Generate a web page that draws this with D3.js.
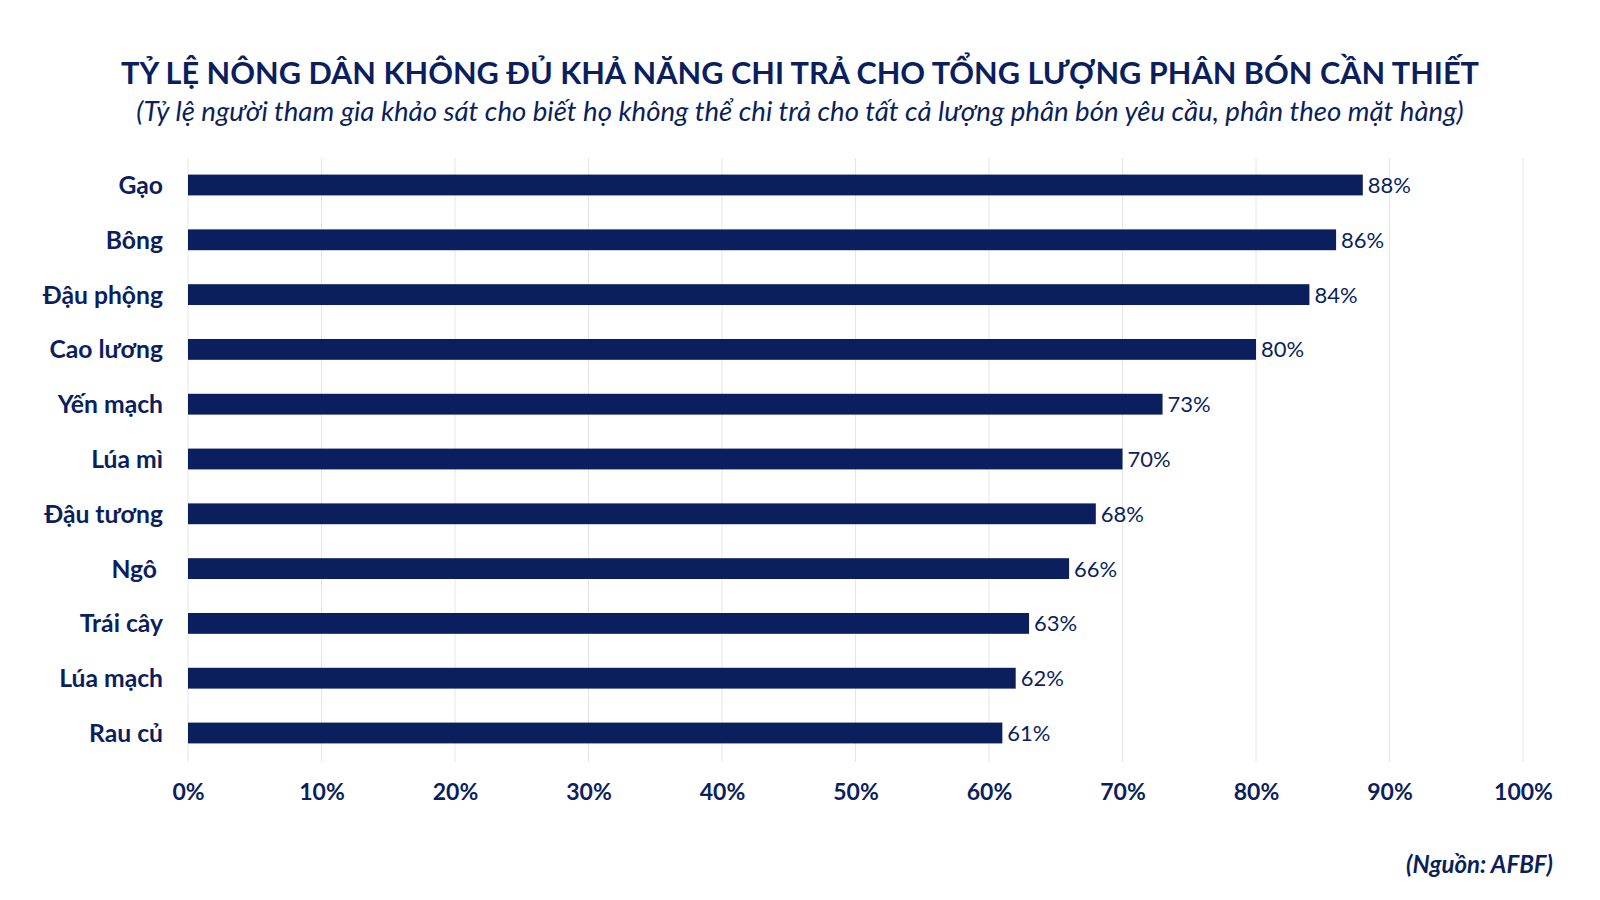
<!DOCTYPE html>
<html><head><meta charset="utf-8">
<script src="https://cdn.jsdelivr.net/npm/d3@7"></script>
<style>body{margin:0;background:#fff}</style>
</head><body><div id="chart"></div>
<script>
const categories = ["Gạo","Bông","Đậu phộng","Cao lương","Yến mạch","Lúa mì","Đậu tương","Ngô","Trái cây","Lúa mạch","Rau củ"];
const values = [88,86,84,80,73,70,68,66,63,62,61];
const ticks = [0,10,20,30,40,50,60,70,80,90,100];

const W = 1600, H = 900, navy = "#0b1f5e", font = "Lato, 'Open Sans', sans-serif";
const svg = d3.select("#chart").append("svg").attr("width", W).attr("height", H).style("font-family", font);

const x = d3.scaleLinear().domain([0, 100]).range([188, 1523]);
const y = d3.scaleBand().domain(categories).range([157.6, 760.4]).paddingInner(0.62).paddingOuter(0.31);

svg.append("text").attr("x", 800).attr("y", 84).attr("text-anchor", "middle")
  .attr("font-size", 30.7).attr("font-weight", 700).attr("fill", navy)
  .text("TỶ LỆ NÔNG DÂN KHÔNG ĐỦ KHẢ NĂNG CHI TRẢ CHO TỔNG LƯỢNG PHÂN BÓN CẦN THIẾT");
svg.append("text").attr("x", 800).attr("y", 121).attr("text-anchor", "middle")
  .attr("font-size", 27.6).attr("font-style", "italic").attr("fill", navy)
  .text("(Tỷ lệ người tham gia khảo sát cho biết họ không thể chi trả cho tất cả lượng phân bón yêu cầu, phân theo mặt hàng)");

svg.append("g").selectAll("line").data(ticks).join("line")
  .attr("x1", d => x(d)).attr("x2", d => x(d)).attr("y1", 158).attr("y2", 762)
  .attr("stroke", "#e6e6e6").attr("stroke-width", 1);

const xAxis = svg.append("g").attr("transform", "translate(0,762)")
  .call(d3.axisBottom(x).tickValues(ticks).tickFormat(d => d + "%").tickSize(0).tickPadding(22));
xAxis.select(".domain").remove();
xAxis.selectAll("text").attr("font-size", 23).attr("font-weight", 700).attr("fill", navy).attr("font-family", font);

svg.append("g").selectAll("rect").data(values).join("rect")
  .attr("x", x(0)).attr("y", (d, i) => y(categories[i]))
  .attr("width", d => x(d) - x(0)).attr("height", y.bandwidth()).attr("fill", navy);

svg.append("g").selectAll("text").data(values).join("text")
  .attr("x", d => x(d) + 5).attr("y", (d, i) => y(categories[i]) + y.bandwidth() / 2 + 8)
  .attr("font-size", 22).attr("fill", navy).text(d => d + "%");

svg.append("g").selectAll("text").data(categories).join("text")
  .attr("x", d => d === "Ngô" ? 157 : 163).attr("y", d => y(d) + y.bandwidth() / 2 + 9)
  .attr("text-anchor", "end").attr("font-size", 24.7).attr("font-weight", 700).attr("fill", navy).text(d => d);

svg.append("text").attr("x", 1553).attr("y", 873).attr("text-anchor", "end")
  .attr("font-size", 24).attr("font-weight", 700).attr("font-style", "italic").attr("fill", navy)
  .text("(Nguồn: AFBF)");
</script></body></html>
